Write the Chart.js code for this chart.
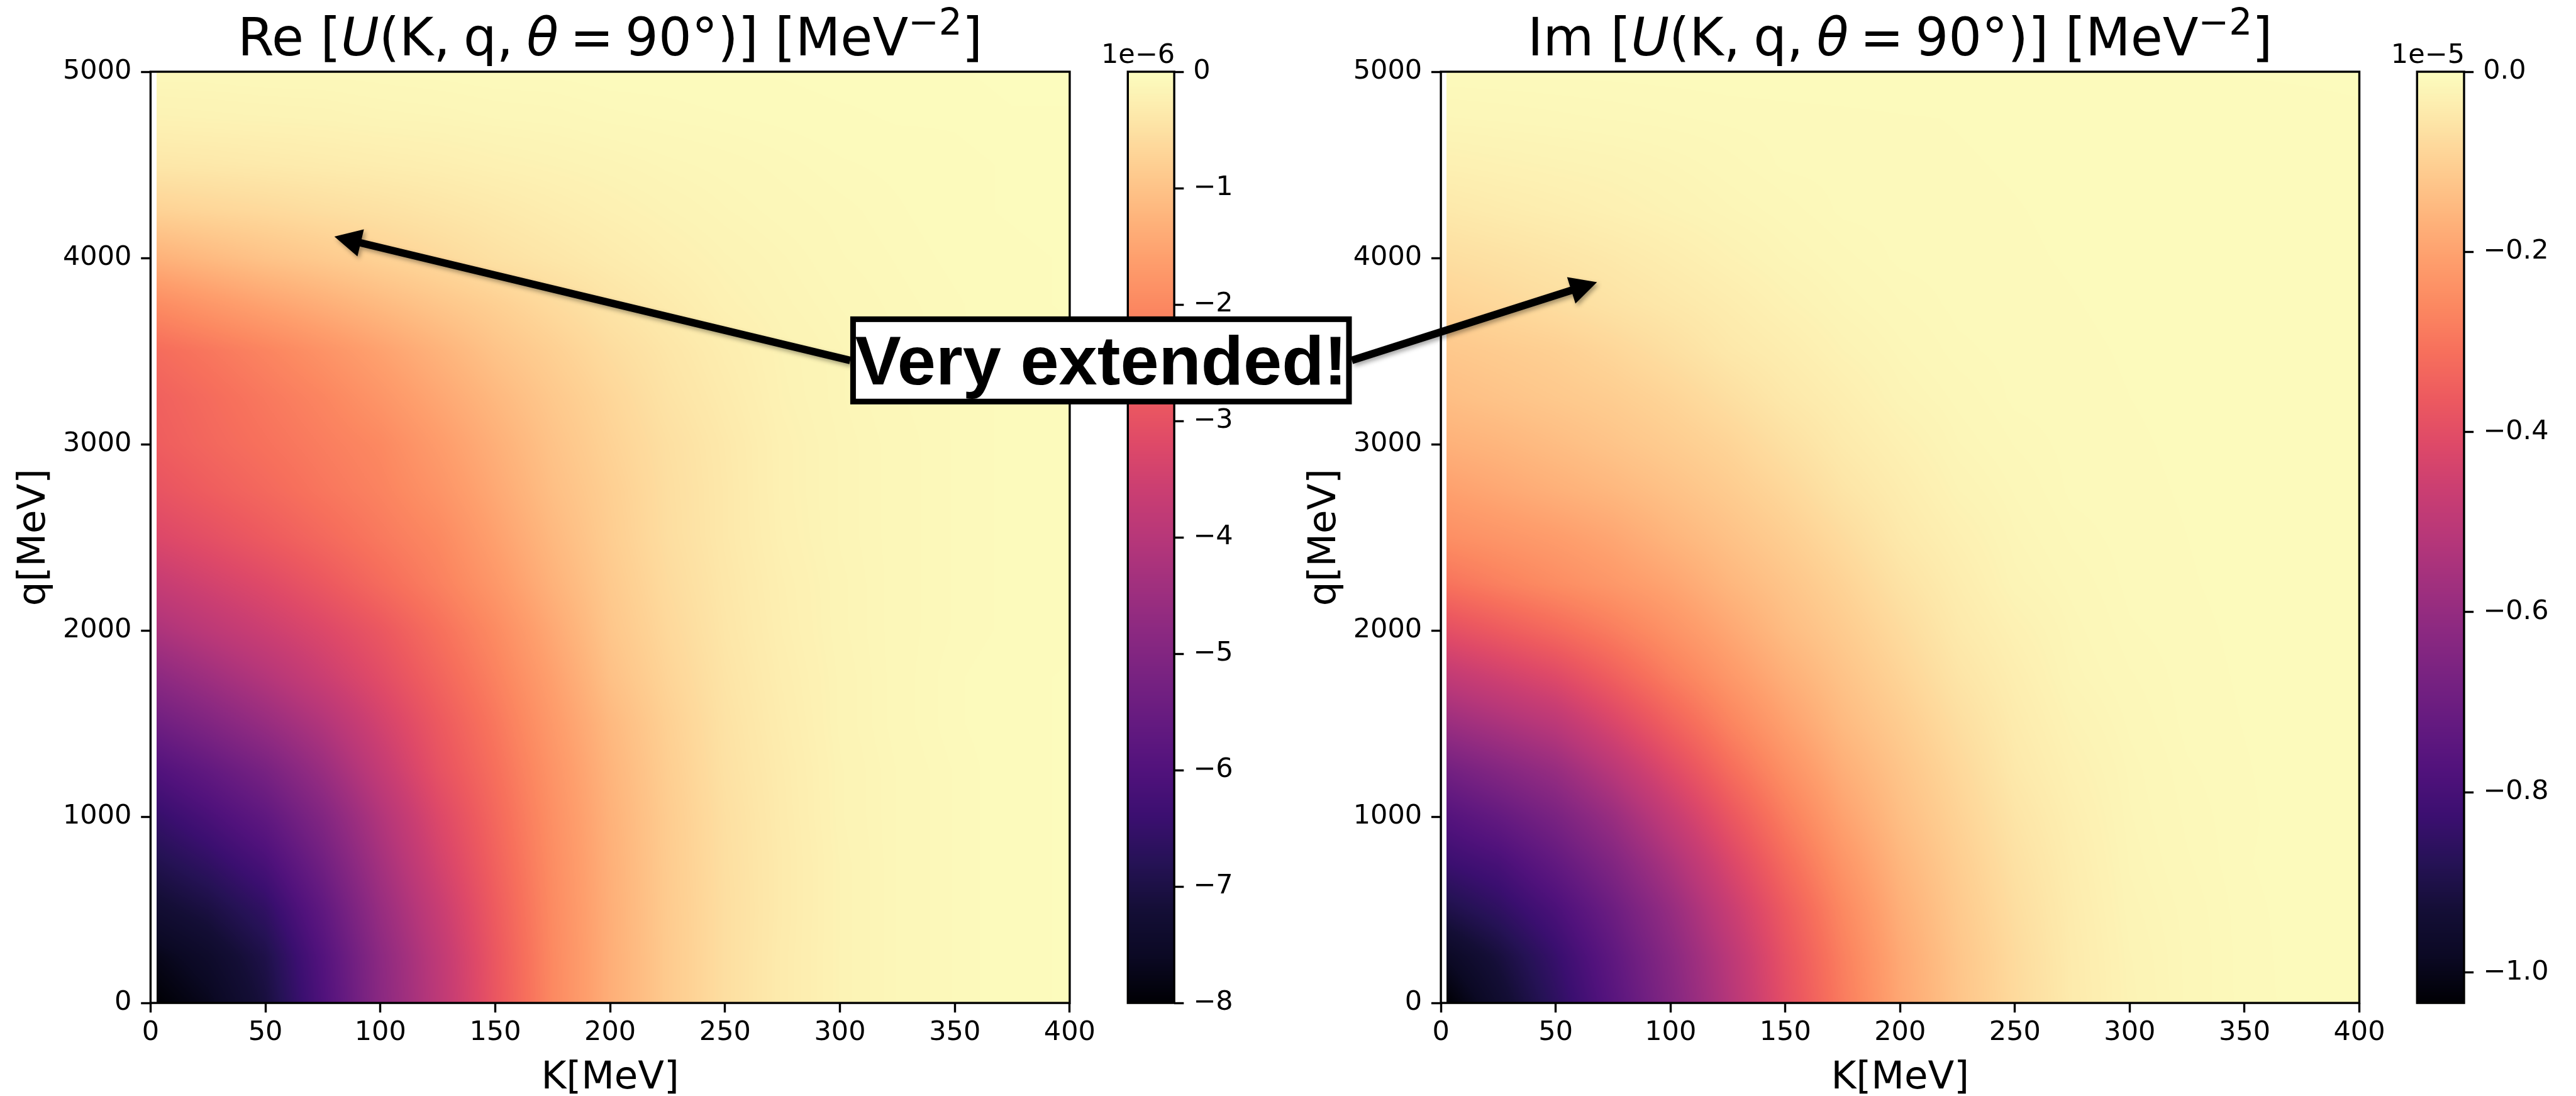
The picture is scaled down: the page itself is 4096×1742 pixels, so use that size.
<!DOCTYPE html>
<html>
<head>
<meta charset="utf-8">
<script src="https://cdn.jsdelivr.net/npm/chart.js@4.4.1/dist/chart.umd.min.js"></script>
<style>
  html, body { margin: 0; padding: 0; background: #fff; }
  body { width: 4096px; height: 1742px; position: relative; overflow: hidden; }
  canvas { position: absolute; top: 0; }
</style>
</head>
<body>
<canvas id="reMap" style="left:0px;width:1781px;height:1742px" width="1781" height="1742"></canvas>
<canvas id="reBar" style="left:1720px;width:280px;height:1742px" width="280" height="1742"></canvas>
<canvas id="imMap" style="left:2000px;width:1832px;height:1742px" width="1832" height="1742"></canvas>
<canvas id="imBar" style="left:3770px;width:326px;height:1742px" width="326" height="1742"></canvas>
<canvas id="note" style="left:0px;z-index:5;pointer-events:none;width:4096px;height:1742px" width="4096" height="1742"></canvas>
<script>
// ---------------- data ----------------
// grid nodes: K [MeV] (columns) and q [MeV] (rows)
const kGrid = [2.5, 25, 50, 75, 100, 125, 150, 175, 200, 225, 250, 275, 300, 325, 350, 375, 400];
const qGrid = [0, 250, 500, 750, 1000, 1250, 1500, 1750, 2000, 2250, 2500, 2750, 3000, 3250, 3500, 3750, 4000, 4250, 4500, 4750, 5000];

// Re U(K, q, theta = 90 deg), in units of 1e-6 MeV^-2; one row per q node
const reUnit = 1e-6;
const reValues = [
  [-8.0, -7.7, -7.1, -6.05, -4.85, -3.9, -2.9, -2.0, -1.35, -0.88, -0.55, -0.33, -0.19, -0.12, -0.08, -0.05, -0.04],
  [-7.75, -7.45, -6.95, -5.95, -4.8, -3.85, -2.87, -1.99, -1.35, -0.88, -0.55, -0.33, -0.19, -0.12, -0.08, -0.05, -0.04],
  [-7.3, -7.05, -6.6, -5.7, -4.6, -3.68, -2.78, -1.96, -1.34, -0.87, -0.55, -0.34, -0.19, -0.12, -0.08, -0.05, -0.04],
  [-6.9, -6.6, -6.15, -5.35, -4.35, -3.45, -2.66, -1.92, -1.32, -0.86, -0.54, -0.34, -0.19, -0.12, -0.08, -0.05, -0.04],
  [-6.5, -6.15, -5.7, -5.0, -4.1, -3.25, -2.55, -1.87, -1.29, -0.85, -0.53, -0.33, -0.18, -0.12, -0.08, -0.05, -0.04],
  [-6.0, -5.65, -5.2, -4.55, -3.75, -3.0, -2.42, -1.8, -1.24, -0.82, -0.5, -0.32, -0.18, -0.12, -0.08, -0.05, -0.04],
  [-5.4, -5.05, -4.6, -4.1, -3.45, -2.84, -2.29, -1.7, -1.17, -0.78, -0.48, -0.3, -0.17, -0.11, -0.07, -0.05, -0.04],
  [-4.8, -4.45, -4.05, -3.6, -3.12, -2.62, -2.12, -1.58, -1.04, -0.71, -0.45, -0.28, -0.17, -0.11, -0.07, -0.05, -0.04],
  [-4.2, -3.9, -3.58, -3.25, -2.87, -2.42, -1.96, -1.44, -0.95, -0.65, -0.42, -0.26, -0.16, -0.11, -0.08, -0.06, -0.05],
  [-3.7, -3.45, -3.18, -2.86, -2.5, -2.15, -1.74, -1.28, -0.89, -0.6, -0.4, -0.25, -0.16, -0.11, -0.08, -0.06, -0.05],
  [-3.25, -3.05, -2.8, -2.54, -2.26, -2.0, -1.58, -1.17, -0.83, -0.56, -0.38, -0.23, -0.15, -0.11, -0.08, -0.06, -0.05],
  [-2.95, -2.75, -2.54, -2.31, -2.1, -1.81, -1.44, -1.07, -0.8, -0.55, -0.38, -0.22, -0.15, -0.11, -0.08, -0.06, -0.05],
  [-2.75, -2.57, -2.38, -2.19, -2.0, -1.67, -1.33, -1.0, -0.74, -0.53, -0.37, -0.22, -0.15, -0.11, -0.08, -0.06, -0.05],
  [-2.68, -2.49, -2.27, -2.06, -1.78, -1.48, -1.18, -0.91, -0.68, -0.47, -0.33, -0.2, -0.14, -0.1, -0.08, -0.06, -0.05],
  [-2.48, -2.3, -2.08, -1.83, -1.56, -1.28, -1.0, -0.79, -0.58, -0.42, -0.29, -0.19, -0.14, -0.1, -0.07, -0.06, -0.05],
  [-1.95, -1.75, -1.54, -1.35, -1.15, -0.96, -0.79, -0.61, -0.45, -0.33, -0.22, -0.16, -0.12, -0.09, -0.07, -0.05, -0.04],
  [-1.29, -1.15, -1.0, -0.88, -0.75, -0.63, -0.5, -0.41, -0.32, -0.24, -0.18, -0.14, -0.1, -0.08, -0.06, -0.05, -0.04],
  [-0.75, -0.69, -0.63, -0.56, -0.5, -0.43, -0.36, -0.29, -0.23, -0.18, -0.14, -0.11, -0.09, -0.07, -0.05, -0.04, -0.03],
  [-0.4, -0.38, -0.35, -0.32, -0.29, -0.26, -0.22, -0.19, -0.16, -0.13, -0.11, -0.09, -0.07, -0.06, -0.05, -0.04, -0.03],
  [-0.2, -0.19, -0.18, -0.17, -0.15, -0.14, -0.12, -0.11, -0.09, -0.08, -0.07, -0.06, -0.05, -0.04, -0.04, -0.03, -0.03],
  [-0.1, -0.1, -0.09, -0.09, -0.08, -0.07, -0.06, -0.06, -0.05, -0.05, -0.04, -0.04, -0.03, -0.03, -0.03, -0.02, -0.02]
];

// Im U(K, q, theta = 90 deg), in units of 1e-5 MeV^-2; one row per q node
const imUnit = 1e-5;
const imValues = [
  [-1.034, -0.954, -0.86, -0.757, -0.645, -0.525, -0.396, -0.288, -0.191, -0.127, -0.08, -0.044, -0.024, -0.015, -0.0096, -0.0078, -0.006],
  [-0.98, -0.919, -0.837, -0.738, -0.63, -0.51, -0.384, -0.278, -0.186, -0.124, -0.078, -0.043, -0.023, -0.015, -0.0095, -0.0077, -0.006],
  [-0.9, -0.857, -0.792, -0.703, -0.598, -0.477, -0.361, -0.259, -0.173, -0.116, -0.072, -0.041, -0.021, -0.0145, -0.0093, -0.0076, -0.006],
  [-0.828, -0.798, -0.731, -0.649, -0.545, -0.43, -0.323, -0.231, -0.157, -0.107, -0.065, -0.038, -0.0193, -0.013, -0.0088, -0.0074, -0.006],
  [-0.767, -0.726, -0.669, -0.588, -0.483, -0.378, -0.283, -0.201, -0.14, -0.096, -0.057, -0.034, -0.018, -0.012, -0.009, -0.0075, -0.006],
  [-0.686, -0.643, -0.593, -0.51, -0.414, -0.322, -0.242, -0.174, -0.126, -0.085, -0.048, -0.029, -0.017, -0.011, -0.0088, -0.0074, -0.006],
  [-0.585, -0.548, -0.505, -0.428, -0.347, -0.271, -0.205, -0.149, -0.11, -0.072, -0.042, -0.024, -0.015, -0.0098, -0.0085, -0.0073, -0.006],
  [-0.49, -0.454, -0.413, -0.35, -0.284, -0.226, -0.173, -0.13, -0.093, -0.058, -0.036, -0.019, -0.013, -0.0095, -0.0083, -0.0072, -0.006],
  [-0.395, -0.362, -0.325, -0.283, -0.236, -0.19, -0.145, -0.112, -0.078, -0.047, -0.029, -0.017, -0.011, -0.0092, -0.0081, -0.007, -0.006],
  [-0.305, -0.278, -0.25, -0.224, -0.195, -0.157, -0.126, -0.095, -0.062, -0.039, -0.021, -0.0146, -0.0098, -0.0088, -0.0079, -0.007, -0.006],
  [-0.245, -0.23, -0.213, -0.191, -0.16, -0.133, -0.106, -0.077, -0.048, -0.031, -0.018, -0.012, -0.0094, -0.0086, -0.0077, -0.0069, -0.006],
  [-0.205, -0.189, -0.171, -0.154, -0.133, -0.111, -0.086, -0.058, -0.039, -0.023, -0.0153, -0.0099, -0.0091, -0.0084, -0.0076, -0.0068, -0.006],
  [-0.168, -0.158, -0.143, -0.127, -0.11, -0.092, -0.067, -0.045, -0.03, -0.018, -0.0124, -0.0096, -0.0089, -0.0082, -0.0074, -0.0067, -0.006],
  [-0.139, -0.129, -0.118, -0.107, -0.091, -0.07, -0.049, -0.035, -0.021, -0.0147, -0.0099, -0.0092, -0.0086, -0.008, -0.0073, -0.0066, -0.006],
  [-0.119, -0.111, -0.102, -0.087, -0.069, -0.05, -0.038, -0.025, -0.0167, -0.0113, -0.0096, -0.009, -0.0084, -0.0078, -0.0072, -0.0066, -0.006],
  [-0.094, -0.084, -0.073, -0.061, -0.05, -0.039, -0.027, -0.018, -0.0128, -0.0098, -0.0092, -0.0087, -0.0081, -0.0076, -0.0071, -0.0065, -0.006],
  [-0.071, -0.064, -0.056, -0.047, -0.037, -0.027, -0.0187, -0.0136, -0.0099, -0.0094, -0.0089, -0.0084, -0.0079, -0.0074, -0.007, -0.0065, -0.006],
  [-0.048, -0.042, -0.036, -0.03, -0.024, -0.0184, -0.0141, -0.01, -0.0095, -0.0091, -0.0087, -0.0082, -0.0078, -0.0073, -0.0069, -0.0064, -0.006],
  [-0.03, -0.027, -0.024, -0.0215, -0.018, -0.0138, -0.01, -0.0096, -0.0092, -0.0088, -0.0084, -0.008, -0.0076, -0.0072, -0.0068, -0.0064, -0.006],
  [-0.016, -0.0148, -0.0135, -0.0123, -0.011, -0.0099, -0.0095, -0.0092, -0.0088, -0.0085, -0.0081, -0.0078, -0.0074, -0.0071, -0.0067, -0.0064, -0.006],
  [-0.008, -0.008, -0.0078, -0.0076, -0.0074, -0.0072, -0.007, -0.0068, -0.0066, -0.0064, -0.0062, -0.006, -0.0058, -0.0056, -0.0054, -0.0052, -0.005]
];

// colour-scale limits (same units as the value tables)
const reRange = [-8, 0];
const imRange = [-1.034, 0];

// axis ticks
const kTicks = [0, 50, 100, 150, 200, 250, 300, 350, 400];
const qTicks = [0, 1000, 2000, 3000, 4000, 5000];
const reBarTicks = [0, -1, -2, -3, -4, -5, -6, -7, -8];
const imBarTicks = [0, -0.2, -0.4, -0.6, -0.8, -1.0];

// annotation: label and the (K, q) points the arrows point to
const noteText = 'Very extended!';
const reTarget = [80, 4115];
const imTarget = [68, 3870];

// ---------------- colour map (magma) ----------------
const magmaStops = ['#000004', '#0b0924', '#140e36', '#251255', '#3b0f70', '#51127c', '#641a80',
  '#782281', '#8c2981', '#a1307e', '#b73779', '#ca3e72', '#de4968', '#ed5a5f', '#f7705c',
  '#fc8961', '#fe9f6d', '#feb77e', '#fecf92', '#fde7a9', '#fcfdbf'];
const stopRgb = magmaStops.map(h => [1, 3, 5].map(i => parseInt(h.substr(i, 2), 16)));
const LUT_N = 1024;
const LUT = [];
for (let i = 0; i < LUT_N; i++) {
  const f = i / (LUT_N - 1) * (stopRgb.length - 1);
  const j = Math.min(Math.floor(f), stopRgb.length - 2);
  const u = f - j;
  LUT.push(stopRgb[j].map((c, n) => Math.round(c + (stopRgb[j + 1][n] - c) * u)));
}
function colourAt(t) {
  t = Math.max(0, Math.min(1, t));
  return LUT[Math.round(t * (LUT_N - 1))];
}

// ---------------- drawing helpers ----------------
const FONT = '"DejaVu Sans"';
const TICK_PX = 43;
const TICK_LEN = 15.2;
const LINE_W = 3.4;

function locate(grid, v) {
  if (!(v >= grid[0] && v <= grid[grid.length - 1])) return null;
  let i = 0;
  while (i < grid.length - 2 && v > grid[i + 1]) i++;
  return [i, (v - grid[i]) / (grid[i + 1] - grid[i])];
}

// gouraud-style shading of the value table over the plot area
function shadeField(chart, values, range) {
  const { ctx, chartArea: a, scales: { x, y } } = chart;
  const x0 = Math.round(a.left), y0 = Math.round(a.top);
  const w = Math.round(a.right) - x0, h = Math.round(a.bottom) - y0;
  const img = ctx.createImageData(w, h);
  const cols = [], rows = [];
  for (let i = 0; i < w; i++) cols.push(locate(kGrid, x.getValueForPixel(x0 + i + 0.5)));
  for (let j = 0; j < h; j++) rows.push(locate(qGrid, y.getValueForPixel(y0 + j + 0.5)));
  const [lo, hi] = range;
  for (let j = 0; j < h; j++) {
    const r = rows[j];
    if (!r) continue;
    const r0 = values[r[0]], r1 = values[r[0] + 1], fy = r[1];
    for (let i = 0; i < w; i++) {
      const c = cols[i];
      if (!c) continue;
      const ci = c[0], fx = c[1];
      const v = (r0[ci] * (1 - fx) + r0[ci + 1] * fx) * (1 - fy) +
                (r1[ci] * (1 - fx) + r1[ci + 1] * fx) * fy;
      const rgb = colourAt((v - lo) / (hi - lo));
      const p = (j * w + i) * 4;
      img.data[p] = rgb[0]; img.data[p + 1] = rgb[1]; img.data[p + 2] = rgb[2]; img.data[p + 3] = 255;
    }
  }
  ctx.putImageData(img, x0, y0);
}

function frame(chart) {
  const { ctx, chartArea: a } = chart;
  ctx.save();
  ctx.lineWidth = LINE_W;
  ctx.strokeStyle = '#000';
  ctx.strokeRect(a.left, a.top, a.right - a.left, a.bottom - a.top);
  ctx.restore();
}

// panel title with italic symbols, math spacing and a superscript exponent
function drawTitle(ctx, head, cx, baseline) {
  const size = 83;
  const parts = [
    { t: head + ' [', s: 'normal' },
    { t: 'U', s: 'italic' },
    { t: '(K,', s: 'normal' },
    { gap: 0.255 },
    { t: 'q,', s: 'normal' },
    { gap: 0.255 },
    { t: 'θ', s: 'italic' },
    { gap: 0.22 },
    { t: '=', s: 'normal' },
    { gap: 0.22 },
    { t: '90°)] [MeV', s: 'normal' },
    { t: '−2', s: 'sup' },
    { t: ']', s: 'normal' }
  ];
  const fontOf = p => p.s === 'italic' ? `italic ${size}px ${FONT}` :
                     p.s === 'sup' ? `${size * 0.7}px ${FONT}` : `${size}px ${FONT}`;
  ctx.save();
  ctx.fillStyle = '#000';
  ctx.textBaseline = 'alphabetic';
  ctx.textAlign = 'left';
  let total = 0;
  parts.forEach(p => {
    if (p.gap) { p.w = p.gap * size; }
    else { ctx.font = fontOf(p); p.w = ctx.measureText(p.t).width; }
    total += p.w;
  });
  let x = cx - total / 2;
  parts.forEach(p => {
    if (!p.gap) {
      ctx.font = fontOf(p);
      ctx.fillText(p.t, x, p.s === 'sup' ? baseline - 33 : baseline);
    }
    x += p.w;
  });
  ctx.restore();
}

function axisLabels(chart, head) {
  const { ctx, chartArea: a } = chart;
  const cx = (a.left + a.right) / 2, cy = (a.top + a.bottom) / 2;
  drawTitle(ctx, head, cx, 87.7);
  ctx.save();
  ctx.fillStyle = '#000';
  ctx.font = `61px ${FONT}`;
  ctx.textAlign = 'center';
  ctx.textBaseline = 'alphabetic';
  ctx.fillText('K[MeV]', cx, 1730);
  ctx.translate(a.left - 168, cy);
  ctx.rotate(-Math.PI / 2);
  ctx.fillText('q[MeV]', 0, 0);
  ctx.restore();
}

function tickFont() { return { family: FONT, size: TICK_PX }; }
function tickGrid() {
  return { drawOnChartArea: false, drawTicks: true, tickLength: TICK_LEN, tickWidth: LINE_W, tickColor: '#000' };
}

function heatmapChart(id, head, values, range, yAxisWidth, padRight) {
  return new Chart(document.getElementById(id), {
    type: 'scatter',
    data: { datasets: [{ data: [] }] },
    options: {
      responsive: false, animation: false, devicePixelRatio: 1,
      layout: { padding: { left: 0, right: padRight, top: 114, bottom: 0 } },
      plugins: { legend: { display: false }, tooltip: { enabled: false } },
      scales: {
        x: {
          type: 'linear', position: 'bottom', min: 0, max: 400,
          afterBuildTicks: s => { s.ticks = kTicks.map(v => ({ value: v })); },
          afterFit: s => { s.height = 147.9; },
          grid: tickGrid(), border: { display: false },
          ticks: { font: tickFont(), color: '#000', padding: 7, autoSkip: false, maxRotation: 0, callback: v => String(v) }
        },
        y: {
          type: 'linear', position: 'left', min: 0, max: 5000,
          afterBuildTicks: s => { s.ticks = qTicks.map(v => ({ value: v })); },
          afterFit: s => { s.width = yAxisWidth; },
          grid: tickGrid(), border: { display: false },
          ticks: { font: tickFont(), color: '#000', padding: 14.8, autoSkip: false, callback: v => String(v) }
        }
      }
    },
    plugins: [{
      id: 'field',
      beforeDraw: c => shadeField(c, values, range),
      afterDraw: c => { frame(c); axisLabels(c, head); }
    }]
  });
}

function colorbarChart(id, barTicks, unit, range, fmt, offsetLabel, padLeft, axisWidth) {
  return new Chart(document.getElementById(id), {
    type: 'scatter',
    data: { datasets: [{ data: [] }] },
    options: {
      responsive: false, animation: false, devicePixelRatio: 1,
      layout: { padding: { left: padLeft, right: 0, top: 114, bottom: 147.9 } },
      plugins: { legend: { display: false }, tooltip: { enabled: false } },
      scales: {
        x: { type: 'linear', display: false, min: 0, max: 1 },
        y: {
          type: 'linear', position: 'right', min: range[0] * unit, max: range[1] * unit,
          afterBuildTicks: s => { s.ticks = barTicks.map(v => ({ value: v * unit })); },
          afterFit: s => { s.width = axisWidth; },
          grid: tickGrid(), border: { display: false },
          ticks: { font: tickFont(), color: '#000', padding: 15, autoSkip: false, callback: v => fmt(v / unit) }
        }
      }
    },
    plugins: [{
      id: 'bar',
      beforeDraw: c => {
        const { ctx, chartArea: a, scales: { y } } = c;
        for (let py = Math.floor(a.top); py < Math.ceil(a.bottom); py++) {
          const v = y.getValueForPixel(py + 0.5) / unit;
          const rgb = colourAt((v - range[0]) / (range[1] - range[0]));
          ctx.fillStyle = `rgb(${rgb[0]},${rgb[1]},${rgb[2]})`;
          ctx.fillRect(a.left, py, a.right - a.left, 1);
        }
      },
      afterDraw: c => {
        frame(c);
        const { ctx, chartArea: a } = c;
        ctx.save();
        ctx.fillStyle = '#000';
        ctx.font = `${TICK_PX}px ${FONT}`;
        ctx.textAlign = 'right';
        ctx.textBaseline = 'alphabetic';
        ctx.fillText(offsetLabel, a.right + 1, 100);
        ctx.restore();
      }
    }]
  });
}

const fmtInt = m => { const r = Math.round(m); return r === 0 ? '0' : (r < 0 ? '−' : '') + Math.abs(r); };
const fmtOne = m => { const r = Math.round(m * 10); return r === 0 ? '0.0' : (r < 0 ? '−' : '') + (Math.abs(r) / 10).toFixed(1); };

const reChart = heatmapChart('reMap', 'Re', reValues, reRange, 239.4, 80.1);
const reBar = colorbarChart('reBar', reBarTicks, reUnit, reRange, fmtInt, '1e−6', 73.3, 132.9);
const imChart = heatmapChart('imMap', 'Im', imValues, imRange, 291.1, 80.5);
const imBar = colorbarChart('imBar', imBarTicks, imUnit, imRange, fmtOne, '1e−5', 73.3, 178);

// ---------------- annotation ----------------
(function drawNote() {
  const ctx = document.getElementById('note').getContext('2d');
  const offsets = { reMap: 0, imMap: 2000 };
  const toPage = (chart, id, p) => [offsets[id] + chart.scales.x.getPixelForValue(p[0]), chart.scales.y.getPixelForValue(p[1])];
  const reTip = toPage(reChart, 'reMap', reTarget);
  const imTip = toPage(imChart, 'imMap', imTarget);

  const size = 110;
  ctx.font = `bold ${size}px "Liberation Sans", Arial, sans-serif`;
  const m = ctx.measureText(noteText);
  const asc = 0.905 * size, desc = 0.212 * size;
  const cx = 1750.7, cy = 572.8;
  const bw = m.width + 6, bh = asc + desc + 8;
  const bx = cx - bw / 2, by = cy - bh / 2;
  const lw = 9;

  function arrow(from, to) {
    const dx = to[0] - from[0], dy = to[1] - from[1];
    const len = Math.hypot(dx, dy);
    const ux = dx / len, uy = dy / len, px = -uy, py = ux;
    const hl = 43, hw = 22, sw = 6;
    const bxp = to[0] - ux * hl, byp = to[1] - uy * hl;
    ctx.beginPath();
    ctx.moveTo(from[0] + px * sw, from[1] + py * sw);
    ctx.lineTo(bxp + px * sw, byp + py * sw);
    ctx.lineTo(bxp + px * hw, byp + py * hw);
    ctx.lineTo(to[0], to[1]);
    ctx.lineTo(bxp - px * hw, byp - py * hw);
    ctx.lineTo(bxp - px * sw, byp - py * sw);
    ctx.lineTo(from[0] - px * sw, from[1] - py * sw);
    ctx.closePath();
    ctx.fill();
  }
  ctx.save();
  ctx.fillStyle = '#000';
  ctx.shadowColor = 'rgba(0,0,0,0.35)';
  ctx.shadowBlur = 7;
  ctx.shadowOffsetX = 3;
  ctx.shadowOffsetY = 4;
  arrow([bx - lw / 2, cy], reTip);
  arrow([bx + bw + lw / 2, cy], imTip);
  ctx.restore();

  ctx.save();
  ctx.fillStyle = '#fff';
  ctx.fillRect(bx, by, bw, bh);
  ctx.lineWidth = lw;
  ctx.strokeStyle = '#000';
  ctx.strokeRect(bx, by, bw, bh);
  ctx.fillStyle = '#000';
  ctx.textAlign = 'center';
  ctx.textBaseline = 'alphabetic';
  ctx.font = `bold ${size}px "Liberation Sans", Arial, sans-serif`;
  ctx.fillText(noteText, cx, by + 4 + asc);
  ctx.restore();
})();
</script>
</body>
</html>
